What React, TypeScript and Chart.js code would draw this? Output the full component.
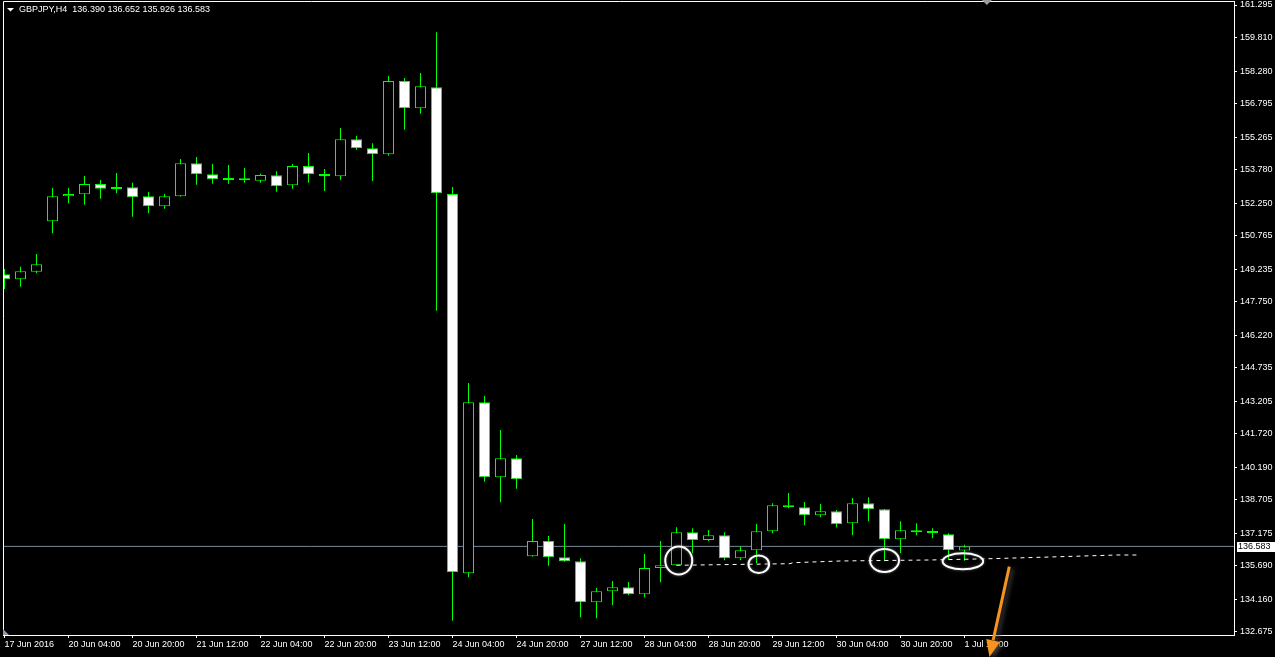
import React, { useEffect, useRef } from "react";
import { Chart, registerables } from "chart.js";

Chart.register(...registerables);

// ---- data ----
const symbolTitle = "GBPJPY,H4  136.390 136.652 135.926 136.583";

const opens = [
  149.002, 148.774, 149.121, 151.422, 152.563, 152.654, 153.124, 152.987, 152.973, 152.563,
  152.106, 152.563, 154.069, 153.567, 153.31, 153.384, 153.275, 153.521, 153.065, 153.946,
  153.58, 153.475, 155.164, 154.754, 154.48, 157.825, 156.579, 157.538, 152.668, 135.354,
  143.16, 139.736, 140.604, 136.13, 136.829, 136.085, 135.902, 134.031, 134.533, 134.715,
  134.396, 135.596, 135.72, 137.226, 136.874, 137.089, 136.039, 136.404, 137.272, 138.458,
  138.367, 138.002, 138.184, 137.637, 138.55, 138.276, 136.906, 137.317, 137.19, 137.135,
  136.39,
];
const highs = [
  149.244, 149.349, 149.929, 152.941, 152.941, 153.489, 153.307, 153.626, 153.183, 152.759,
  152.668, 154.265, 154.356, 154.05, 153.991, 153.854, 153.594, 153.704, 154.037, 154.539,
  153.809, 155.68, 155.315, 154.982, 158.054, 157.962, 158.191, 160.048, 152.987, 144.041,
  143.447, 141.895, 140.754, 137.833, 137.057, 137.605, 136.039, 134.683, 135.003, 134.957,
  136.235, 136.829, 137.454, 137.408, 137.331, 137.226, 136.587, 137.605, 138.55, 139.02,
  138.609, 138.518, 138.244, 138.791, 138.823, 138.29, 137.728, 137.637, 137.408, 137.18,
  136.652,
];
const lows = [
  148.331, 148.436, 149.048, 150.874, 152.243, 152.179, 152.453, 152.699, 151.631, 151.787,
  151.997, 152.54, 153.092, 153.138, 153.138, 153.183, 153.183, 152.773, 152.909, 153.183,
  152.804, 153.32, 154.69, 153.261, 154.416, 155.602, 156.333, 147.341, 133.191, 135.172,
  139.535, 138.595, 139.216, 136.11, 135.701, 135.88, 133.346, 133.3, 133.894, 134.35,
  134.259, 134.944, 135.7, 136.267, 136.829, 135.948, 135.948, 135.811, 137.18, 138.321,
  137.545, 137.911, 137.454, 137.089, 137.728, 135.902, 136.267, 137.089, 136.952, 135.993,
  135.926,
];
const closes = [
  148.774, 149.139, 149.459, 152.563, 152.668, 153.124, 152.909, 152.896, 152.517, 152.106,
  152.563, 154.069, 153.567, 153.339, 153.4, 153.293, 153.535, 153.019, 153.946, 153.567,
  153.475, 155.164, 154.754, 154.48, 157.825, 156.579, 157.584, 152.699, 135.4, 143.16,
  139.736, 140.604, 139.645, 136.829, 136.085, 135.902, 134.031, 134.533, 134.715, 134.396,
  135.596, 135.72, 137.226, 136.874, 137.089, 136.039, 136.404, 137.272, 138.458, 138.367,
  138.002, 138.184, 137.591, 138.55, 138.276, 136.906, 137.317, 137.226, 137.28, 136.404,
  136.583,
];

const xTickIndex = [0, 4, 8, 12, 16, 20, 24, 28, 32, 36, 40, 44, 48, 52, 56, 60];
const xTickLabels = [
  "17 Jun 2016", "20 Jun 04:00", "20 Jun 20:00", "21 Jun 12:00", "22 Jun 04:00",
  "22 Jun 20:00", "23 Jun 12:00", "24 Jun 04:00", "24 Jun 20:00", "27 Jun 12:00",
  "28 Jun 04:00", "28 Jun 20:00", "29 Jun 12:00", "30 Jun 04:00", "30 Jun 20:00",
  "1 Jul 12:00",
];
const yTickValues = [
  132.675, 134.16, 135.69, 137.175, 138.705, 140.19, 141.72, 143.205, 144.735, 146.22,
  147.75, 149.235, 150.765, 152.25, 153.78, 155.265, 156.795, 158.28, 159.81, 161.295,
];

const currentPrice = 136.583;

// dashed support line (bar index, price)
const supportX = [42.01, 49.09, 49.28, 52.22, 57.84, 61.59, 65.34, 69.53, 70.97];
const supportY = [135.72, 135.793, 135.838, 135.916, 135.962, 136.021, 136.098, 136.19, 136.19];

// highlighted lows (bar index, price)
const ringX = [42.14, 47.14, 55.0, 59.9];
const ringY = [135.939, 135.77, 135.939, 135.902];

// orange arrow (bar index, price)
const arrowX = [62.8, 61.56];
const arrowY = [135.656, 131.534];

const shiftMarkerIndex = 61.4;

// ---- layout / style ----
const X_MIN = -0.09375;
const X_MAX = 76.84375;
const Y_MIN = 132.538;
const Y_MAX = 161.432;
const ringRX = [13.5, 10.3, 14.5, 20.3];
const ringRY = [14, 8.8, 11.5, 8];
const FONT = '"Liberation Sans", Arial, sans-serif';
const GREEN = "#00ff00";

export default function App() {
  const ref = useRef<HTMLCanvasElement>(null);

  useEffect(() => {
    document.body.style.margin = "0";
    document.body.style.background = "#000";
    const canvas = ref.current;
    if (!canvas) return;

    const bodies = opens.map((o, i) => ({ x: i, y: [o, closes[i]] }));
    const wicks = lows.map((l, i) => ({ x: i, y: [l, highs[i]] }));
    const fills = opens.map((o, i) => (closes[i] < o ? "#ffffff" : "#000000"));

    const overlay = {
      id: "overlay",
      beforeDraw(chart: any) {
        const { ctx, width, height } = chart;
        ctx.save();
        ctx.fillStyle = "#000";
        ctx.fillRect(0, 0, width, height);
        ctx.restore();
      },
      afterDraw(chart: any) {
        const { ctx, chartArea: a, scales } = chart;
        const xs = scales.x;
        const ys = scales.y;
        ctx.save();

        // frame top & left
        ctx.strokeStyle = "#ffffff";
        ctx.lineWidth = 1;
        ctx.beginPath();
        ctx.moveTo(a.left + 0.5, a.bottom);
        ctx.lineTo(a.left + 0.5, a.top - 0.5);
        ctx.lineTo(a.right + 1, a.top - 0.5);
        ctx.stroke();

        // corner marker bottom-left
        ctx.fillStyle = "#8a9bb0";
        ctx.beginPath();
        ctx.moveTo(a.left, a.bottom - 6);
        ctx.lineTo(a.left, a.bottom);
        ctx.lineTo(a.left + 6, a.bottom);
        ctx.closePath();
        ctx.fill();

        // shift marker at top
        const sx = xs.getPixelForValue(shiftMarkerIndex);
        ctx.fillStyle = "#9a9a9a";
        ctx.beginPath();
        ctx.moveTo(sx - 5, 0);
        ctx.lineTo(sx + 5, 0);
        ctx.lineTo(sx, 5);
        ctx.closePath();
        ctx.fill();

        // title
        ctx.fillStyle = "#ffffff";
        ctx.beginPath();
        ctx.moveTo(a.left + 4, a.top + 6);
        ctx.lineTo(a.left + 11, a.top + 6);
        ctx.lineTo(a.left + 7.5, a.top + 9.5);
        ctx.closePath();
        ctx.fill();
        ctx.font = `9px ${FONT}`;
        ctx.textBaseline = "middle";
        ctx.textAlign = "left";
        ctx.fillText(symbolTitle, a.left + 16, a.top + 7.5);

        // rings
        ctx.save();
        ctx.strokeStyle = "#ffffff";
        ctx.lineWidth = 2;
        ctx.shadowColor = "rgba(150,150,150,0.7)";
        ctx.shadowBlur = 3;
        ringX.forEach((rx, i) => {
          const cx = xs.getPixelForValue(rx);
          const cy = ys.getPixelForValue(ringY[i]);
          ctx.beginPath();
          ctx.ellipse(cx, cy, ringRX[i], ringRY[i], 0, 0, Math.PI * 2);
          ctx.stroke();
        });
        ctx.restore();

        // price label on axis
        const py = ys.getPixelForValue(currentPrice);
        ctx.fillStyle = "#ffffff";
        ctx.fillRect(a.right + 3, Math.round(py) - 4, chart.width - a.right - 3, 10);
        ctx.fillStyle = "#000000";
        ctx.font = `9px ${FONT}`;
        ctx.textBaseline = "middle";
        ctx.fillText(currentPrice.toFixed(3), a.right + 4, Math.round(py) + 1);

        // orange arrow
        const x1 = xs.getPixelForValue(arrowX[0]);
        const y1 = ys.getPixelForValue(arrowY[0]);
        const x2 = xs.getPixelForValue(arrowX[1]);
        const y2 = ys.getPixelForValue(arrowY[1]);
        const len = Math.hypot(x2 - x1, y2 - y1);
        const ux = (x2 - x1) / len;
        const uy = (y2 - y1) / len;
        const head = 17;
        const bx = x2 - ux * head;
        const by = y2 - uy * head;
        ctx.save();
        ctx.shadowColor = "rgba(70,70,70,0.9)";
        ctx.shadowBlur = 4;
        ctx.shadowOffsetX = 3;
        ctx.shadowOffsetY = 2;
        ctx.strokeStyle = "#f7931e";
        ctx.fillStyle = "#f7931e";
        ctx.lineWidth = 3;
        ctx.beginPath();
        ctx.moveTo(x1, y1);
        ctx.lineTo(bx, by);
        ctx.stroke();
        ctx.beginPath();
        ctx.moveTo(x2, y2);
        ctx.lineTo(bx - uy * 7, by + ux * 7);
        ctx.lineTo(bx + uy * 7, by - ux * 7);
        ctx.closePath();
        ctx.fill();
        ctx.restore();

        ctx.restore();
      },
    };

    const chart = new Chart(canvas, {
      type: "bar",
      data: {
        datasets: [
          {
            type: "line",
            data: supportX.map((x, i) => ({ x, y: supportY[i] })),
            borderColor: "#ffffff",
            borderWidth: 1,
            borderDash: [4, 4],
            pointRadius: 0,
            tension: 0,
            order: 0,
          } as any,
          {
            type: "bar",
            data: bodies,
            backgroundColor: fills,
            borderColor: GREEN,
            borderWidth: 1,
            borderSkipped: false,
            inflateAmount: 0,
            grouped: false,
            barThickness: 11,
            maxBarThickness: 11,
            order: 1,
          } as any,
          {
            type: "bar",
            data: wicks,
            backgroundColor: GREEN,
            borderWidth: 0,
            borderSkipped: false,
            inflateAmount: 0,
            grouped: false,
            barThickness: 1,
            maxBarThickness: 1,
            order: 2,
          } as any,
          {
            type: "line",
            data: [
              { x: X_MIN, y: currentPrice },
              { x: X_MAX, y: currentPrice },
            ],
            borderColor: "#778899",
            borderWidth: 1,
            pointRadius: 0,
            order: 3,
          } as any,
        ],
      },
      options: {
        animation: false,
        responsive: false,
        devicePixelRatio: 1,
        events: [],
        layout: { padding: { left: 3, top: 2, right: 0, bottom: 0 } },
        plugins: {
          legend: { display: false },
          tooltip: { enabled: false },
          title: { display: false },
        },
        scales: {
          x: {
            type: "linear",
            position: "bottom",
            min: X_MIN,
            max: X_MAX,
            offset: false,
            grid: {
              display: true,
              drawOnChartArea: false,
              drawTicks: true,
              tickLength: 3,
              color: "#ffffff",
              offset: false,
            },
            border: { display: true, color: "#ffffff", width: 1 },
            ticks: {
              color: "#ffffff",
              font: { family: FONT, size: 9 },
              align: "start",
              autoSkip: false,
              maxRotation: 0,
              minRotation: 0,
              padding: 1,
              callback: (v: any) => {
                const idx = xTickIndex.indexOf(Number(v));
                return idx >= 0 ? xTickLabels[idx] : "";
              },
            },
            afterBuildTicks: (s: any) => {
              s.ticks = xTickIndex.map((v) => ({ value: v }));
            },
            afterFit: (s: any) => {
              s.height = 22;
              s.paddingLeft = 0;
              s.paddingRight = 0;
            },
          } as any,
          y: {
            type: "linear",
            position: "right",
            min: Y_MIN,
            max: Y_MAX,
            grid: {
              display: true,
              drawOnChartArea: false,
              drawTicks: true,
              tickLength: 3,
              color: "#ffffff",
            },
            border: { display: true, color: "#ffffff", width: 1 },
            ticks: {
              color: "#ffffff",
              font: { family: FONT, size: 9 },
              autoSkip: false,
              padding: 3,
              callback: (v: any) => Number(v).toFixed(3),
            },
            afterBuildTicks: (s: any) => {
              s.ticks = yTickValues.map((v) => ({ value: v }));
            },
            afterFit: (s: any) => {
              s.width = 41;
              s.paddingTop = 0;
              s.paddingBottom = 0;
            },
          } as any,
        },
      },
      plugins: [overlay],
    });

    return () => chart.destroy();
  }, []);

  return (
    <div
      style={{
        position: "fixed",
        left: 0,
        top: 0,
        width: 1275,
        height: 657,
        background: "#000",
        overflow: "hidden",
      }}
    >
      <canvas ref={ref} width={1275} height={657} style={{ display: "block" }} />
    </div>
  );
}
